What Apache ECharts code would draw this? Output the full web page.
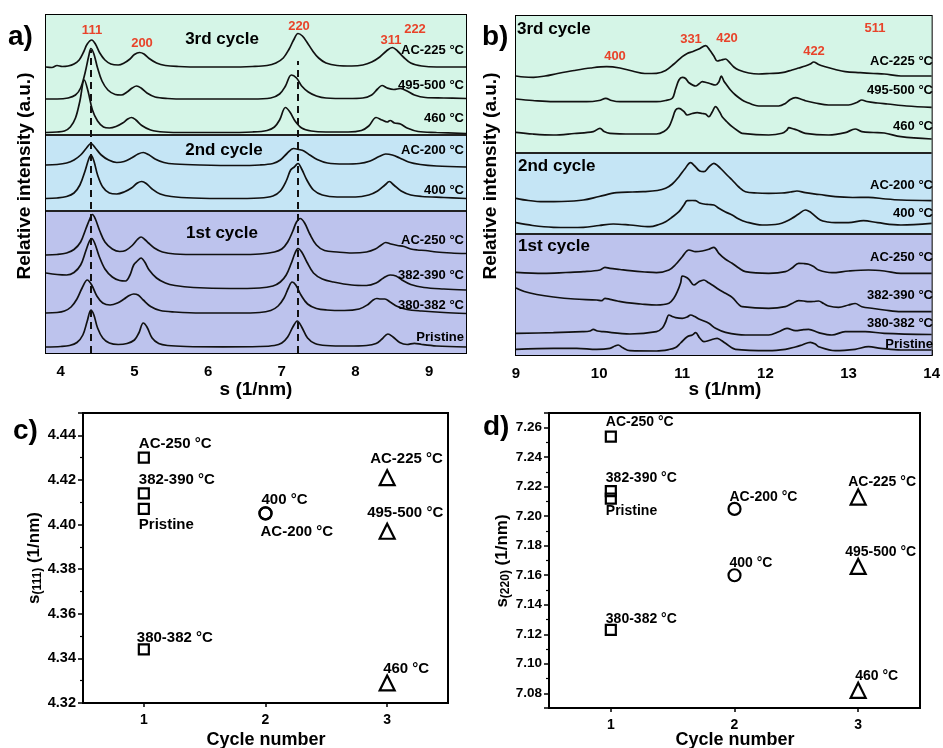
<!DOCTYPE html>
<html><head><meta charset="utf-8">
<script src="https://cdn.jsdelivr.net/npm/echarts@6/dist/echarts.min.js"></script>
<style>html,body{margin:0;padding:0;background:#fff}#c{width:943px;height:748px}</style>
</head><body><div id="c"></div>
<script>
const FONT = '"Liberation Sans", Arial, Helvetica, sans-serif';

// ---------- panel a: low-s patterns (s in 1/nm, stacked relative intensity in a.u.) ----------
const aNames = ['AC-225 °C','495-500 °C','460 °C','AC-200 °C','400 °C','AC-250 °C','382-390 °C','380-382 °C','Pristine'];
const aAC225 = [[3.80,286],[3.88,285.5],[3.95,287.5],[4.02,286.5],[4.10,287],[4.18,289],[4.25,293],[4.31,301],[4.36,309],[4.42,313],[4.47,309],[4.53,300],[4.60,293],[4.68,289],[4.78,288],[4.86,290],[4.94,294],[5.00,298.5],[5.07,300.5],[5.13,299],[5.20,294.5],[5.30,290],[5.42,287.5],[5.60,286.5],[5.90,286],[6.30,286],[6.60,286.5],[6.80,287.5],[6.92,290],[7.02,295],[7.10,304],[7.16,313],[7.22,319.5],[7.28,317],[7.34,311],[7.42,302],[7.50,295],[7.60,290],[7.75,287.5],[7.95,287],[8.10,288],[8.22,291],[8.33,296],[8.42,302],[8.50,305.5],[8.57,302],[8.65,296],[8.75,290],[8.90,287],[9.10,286],[9.30,286],[9.50,286]];
const a495 = [[3.80,254],[3.95,254],[4.10,255],[4.20,258],[4.27,265],[4.33,280],[4.38,297],[4.41,304.5],[4.45,299],[4.50,285],[4.56,272],[4.64,263],[4.74,258.5],[4.82,258],[4.90,261],[4.97,265],[5.03,267],[5.09,265],[5.17,260],[5.28,256],[5.45,254.5],[5.70,254],[6.20,254],[6.60,254],[6.85,255],[6.97,259],[7.05,267],[7.13,278],[7.20,275],[7.27,267],[7.36,261],[7.47,257],[7.60,255],[7.90,254.5],[8.10,255],[8.22,258],[8.30,264],[8.36,267.5],[8.43,265],[8.52,263.5],[8.61,264.5],[8.70,262],[8.80,258],[8.95,255.5],[9.20,255],[9.50,254.5]];
const a460 = [[3.80,220.5],[3.95,221],[4.05,222],[4.13,226],[4.20,235],[4.26,252],[4.32,273],[4.37,262],[4.43,243],[4.50,232],[4.58,226],[4.66,225],[4.75,226.5],[4.84,230],[4.91,234],[4.96,235.5],[5.02,233],[5.10,227.5],[5.22,223],[5.40,221],[5.70,220.5],[6.20,220.5],[6.60,221],[6.80,222.5],[6.90,226],[6.97,233],[7.05,245.5],[7.11,241],[7.18,232],[7.27,225],[7.40,222],[7.60,221],[7.90,221],[8.08,222.5],[8.18,227],[8.28,235.5],[8.36,233],[8.43,231],[8.47,232.5],[8.53,230],[8.61,229],[8.70,225],[8.85,221.5],[9.10,220.5],[9.50,219.5]];
const aAC200 = [[3.80,188],[3.95,188.5],[4.08,190],[4.18,193],[4.27,198],[4.35,205],[4.41,209.5],[4.47,205],[4.55,198],[4.65,193],[4.76,190.5],[4.86,191.5],[4.96,195],[5.05,199],[5.12,200.5],[5.19,198.5],[5.28,194],[5.40,190.5],[5.55,189],[5.90,188],[6.40,187.5],[6.70,188],[6.88,189.5],[6.98,193],[7.07,199.5],[7.16,204.5],[7.23,203.5],[7.30,202],[7.38,198],[7.48,193.5],[7.62,190],[7.85,189],[8.05,189.5],[8.20,192],[8.32,196.5],[8.41,199],[8.50,198],[8.60,195],[8.72,191],[8.88,188.5],[9.10,187],[9.50,186]];
const a400 = [[3.80,154.5],[3.95,155],[4.08,156.5],[4.18,160],[4.26,168],[4.33,182],[4.38,194],[4.41,198],[4.45,192],[4.50,178],[4.57,166],[4.66,160],[4.76,159],[4.86,161],[4.96,165],[5.04,170],[5.10,171.5],[5.16,169.5],[5.24,164],[5.35,159],[5.50,156.5],[5.80,155],[6.30,154.5],[6.70,155],[6.88,157],[6.98,162],[7.06,172],[7.12,183],[7.17,186],[7.22,189.5],[7.27,184],[7.34,173],[7.43,163],[7.55,158],[7.75,156],[8.00,156],[8.18,158],[8.30,162],[8.40,168],[8.46,171.5],[8.52,168],[8.62,162],[8.75,158],[8.90,156.5],[9.20,155.5],[9.50,154.5]];
const aAC250 = [[3.80,98],[3.95,98.5],[4.08,100],[4.18,103.5],[4.27,111],[4.34,124],[4.40,135],[4.43,138.5],[4.47,134],[4.53,122],[4.60,111],[4.70,104],[4.80,101.5],[4.88,102.5],[4.97,107.5],[5.04,113.5],[5.09,116],[5.14,113.5],[5.19,110],[5.27,105],[5.38,101],[5.55,99],[5.90,98.5],[6.40,98.5],[6.70,99],[6.90,101],[7.00,104],[7.08,111],[7.15,122],[7.20,131],[7.25,134.5],[7.31,130],[7.38,119],[7.47,108],[7.58,102.5],[7.75,101],[7.95,100],[8.15,101],[8.27,104],[8.35,108],[8.41,110.5],[8.48,109],[8.57,107.5],[8.66,106.5],[8.75,104],[8.84,103],[8.95,102.5],[9.10,101],[9.30,100],[9.50,99.5]];
const a382 = [[3.80,80],[3.95,78.5],[4.08,78],[4.18,80.5],[4.27,88],[4.34,102],[4.39,112],[4.42,114.5],[4.46,110],[4.52,97],[4.60,84],[4.70,76],[4.80,72.5],[4.88,72],[4.94,78],[4.99,88],[5.04,92],[5.09,95],[5.14,91],[5.20,83],[5.30,75],[5.42,70],[5.55,67.5],[5.80,65.5],[6.30,64.5],[6.70,65],[6.88,67],[6.98,71],[7.06,78],[7.13,90],[7.18,100],[7.22,104.5],[7.27,101],[7.34,91],[7.43,80],[7.55,74],[7.70,71],[7.95,68],[8.15,67.5],[8.28,70],[8.38,75],[8.47,78],[8.55,77],[8.63,73],[8.75,68.5],[8.93,65.5],[9.20,64],[9.50,63]];
const a380 = [[3.80,40],[3.95,40.5],[4.05,42],[4.14,46],[4.22,54],[4.29,65],[4.36,73],[4.42,68],[4.49,57],[4.57,50],[4.67,48],[4.77,50],[4.86,54],[4.93,57.5],[4.99,59],[5.05,58],[5.12,53],[5.22,46.5],[5.35,42.5],[5.55,41],[5.90,40],[6.40,40],[6.70,40.5],[6.85,42.5],[6.95,47],[7.03,55],[7.09,65],[7.14,71],[7.19,68],[7.26,58],[7.35,49],[7.47,44.5],[7.61,43],[7.85,42.5],[8.05,44],[8.17,48.5],[8.24,53],[8.29,54.5],[8.34,54],[8.40,54],[8.47,51],[8.57,46.5],[8.70,43.5],[8.90,42],[9.20,40.5],[9.50,39.5]];
const aPristine = [[3.80,6],[4.00,6.5],[4.12,7.5],[4.22,10.5],[4.30,18],[4.36,32],[4.41,43],[4.45,38],[4.50,25],[4.57,15],[4.66,10],[4.78,8.5],[4.90,9.5],[5.00,13],[5.06,20],[5.12,30],[5.17,26],[5.24,15],[5.33,9.5],[5.45,7.5],[5.70,6.5],[6.20,6.2],[6.70,6.5],[6.90,7.5],[7.00,10],[7.08,16],[7.15,26],[7.21,32],[7.27,26],[7.35,15],[7.45,9.5],[7.60,7.5],[7.90,7],[8.15,7.5],[8.28,9.5],[8.36,14],[8.44,19],[8.51,16],[8.60,10.5],[8.70,8.5],[8.80,9.7],[8.90,8.5],[9.10,7],[9.50,6]];
const aCurves = [aAC225,a495,a460,aAC200,a400,aAC250,a382,a380,aPristine];
const aRefPeaks = [4.41, 7.22];        // dashed reference positions (111, 220)
const aPeakNames = ['111','200','220','311','222'];

// ---------- panel b: high-s patterns ----------
const bNames = aNames;
const bAC225 = [[9.00,279],[9.10,278],[9.21,277.7],[9.35,279],[9.50,281.5],[9.70,284.5],[9.90,287],[10.09,288.3],[10.25,287],[10.40,284],[10.55,281.5],[10.69,281.7],[10.80,284.5],[10.90,291],[11.00,298.3],[11.06,301.5],[11.12,303.3],[11.20,306],[11.28,309.3],[11.33,305],[11.38,299],[11.42,294],[11.47,295],[11.52,296],[11.56,293.3],[11.62,288],[11.68,285],[11.80,282],[11.92,281],[12.05,281.5],[12.20,282.3],[12.32,285],[12.40,287],[12.48,289],[12.54,291],[12.58,293],[12.64,290.5],[12.72,288.3],[12.84,285.5],[12.96,283.3],[13.14,282.3],[13.30,281.5],[13.43,281],[13.63,279],[14.00,279]];
const b495 = [[9.00,256],[9.20,254.5],[9.45,253.3],[9.85,253.3],[10.00,254.5],[10.08,256.7],[10.15,254.5],[10.25,253.3],[10.69,253.3],[10.80,254.5],[10.88,256.7],[10.92,266],[10.96,275],[11.00,277.7],[11.04,276.5],[11.08,272.3],[11.16,269],[11.20,271],[11.24,273.3],[11.29,272.5],[11.33,271.5],[11.40,270],[11.44,273],[11.47,279],[11.50,274],[11.52,271.7],[11.58,265],[11.64,260],[11.72,255],[11.76,253.3],[11.92,249],[12.16,249],[12.24,251.5],[12.30,255.5],[12.36,257.3],[12.44,255.5],[12.48,254.3],[12.60,252],[12.76,250],[13.00,250],[13.10,252.5],[13.16,255],[13.22,253.5],[13.35,252],[13.47,251],[13.70,249],[14.00,247.7]];
const b460 = [[9.00,222.7],[9.20,221],[9.45,220],[9.70,221.5],[9.93,223.3],[10.01,226.7],[10.06,223.5],[10.13,221.7],[10.40,221],[10.69,221],[10.78,223.5],[10.84,228.3],[10.88,236],[10.92,245],[10.96,246.7],[11.02,243.5],[11.06,240],[11.12,241.5],[11.18,242.3],[11.24,241.5],[11.28,241],[11.32,238.3],[11.36,243],[11.40,248.3],[11.45,243],[11.48,238.3],[11.54,233],[11.60,228.3],[11.68,223.5],[11.72,221.7],[12.04,220],[12.20,221.7],[12.26,225],[12.28,227.3],[12.34,226],[12.38,225],[12.48,221.7],[12.76,220],[12.96,222.3],[13.08,226],[13.16,223.3],[13.30,222.5],[13.43,222],[13.63,218.3],[14.00,216]];
const bAC200 = [[9.00,156.7],[9.15,154.5],[9.33,153.3],[9.55,153.5],[9.81,155],[10.00,158.5],[10.21,162.3],[10.40,163],[10.53,163.3],[10.70,164.5],[10.80,166.7],[10.88,171],[10.96,178.3],[11.03,186],[11.10,192.3],[11.15,189],[11.21,184],[11.26,183.3],[11.32,188],[11.38,191.7],[11.43,189],[11.48,185],[11.55,179],[11.60,175],[11.68,168],[11.76,163.3],[11.90,162],[12.04,161.7],[12.20,162],[12.30,163],[12.38,164],[12.48,162.3],[12.65,160.5],[12.84,158.3],[13.05,157.5],[13.24,157.7],[13.45,156],[13.63,155],[14.00,154.3]];
const b400 = [[9.00,132.3],[9.20,129.5],[9.45,127.7],[9.65,127.5],[9.81,127.7],[10.00,129.5],[10.17,131],[10.37,130],[10.61,128.3],[10.72,130.5],[10.80,133.3],[10.88,138],[10.96,143.3],[11.02,150],[11.06,154.3],[11.12,154.5],[11.16,154.3],[11.21,152],[11.26,151],[11.32,150.5],[11.38,150],[11.44,146.7],[11.52,143],[11.60,140],[11.68,136],[11.76,133.3],[11.96,130],[12.16,131],[12.26,134],[12.32,136.7],[12.40,141],[12.48,145],[12.53,143.5],[12.56,141.7],[12.66,135],[12.75,133],[12.84,132.3],[13.00,132.3],[13.18,134.3],[13.35,132.3],[13.63,130],[14.00,131.7]];
const bAC250 = [[9.00,82.7],[9.33,81.7],[9.60,82.5],[9.81,83.3],[10.01,85],[10.07,87.7],[10.13,86.7],[10.25,85.5],[10.37,84.3],[10.55,83],[10.69,82.3],[10.84,85],[10.92,90.5],[11.00,98.3],[11.08,105],[11.16,103.3],[11.24,104],[11.32,105.7],[11.38,107.7],[11.44,101.7],[11.52,95.7],[11.60,91.7],[11.68,87],[11.76,83.3],[12.04,81.7],[12.24,83.3],[12.32,87],[12.40,91.7],[12.46,91.5],[12.52,90.7],[12.58,88.5],[12.64,85],[12.80,82.3],[13.00,84],[13.24,85],[13.43,84],[13.63,81.7],[14.00,81.7]];
const b382 = [[9.00,67],[9.10,63.5],[9.25,60.5],[9.45,58],[9.70,56],[9.97,55],[10.03,54.3],[10.07,56.7],[10.13,55.7],[10.22,54],[10.33,52.3],[10.50,51],[10.69,50],[10.84,51.7],[10.90,57],[10.94,63.3],[10.98,72],[11.00,79],[11.04,78],[11.08,75.7],[11.14,70],[11.20,73.3],[11.26,75],[11.31,72.5],[11.36,70],[11.44,65.5],[11.52,61.7],[11.60,57.7],[11.68,50.5],[11.72,48.3],[12.04,46.7],[12.24,48.3],[12.32,51.5],[12.40,54.3],[12.46,54],[12.52,53.3],[12.58,53.5],[12.64,54],[12.70,51.5],[12.76,49],[12.88,47.7],[13.00,50],[13.08,51.5],[13.16,48.3],[13.30,46.5],[13.43,45],[13.63,43.3],[14.00,43.3]];
const b380 = [[9.00,21.7],[9.45,22.3],[9.80,23.3],[9.89,24],[9.93,25.7],[9.98,24],[10.05,23.3],[10.37,21],[10.69,23.3],[10.76,27],[10.80,33],[10.84,40],[10.88,38.5],[10.92,37.3],[11.00,36.7],[11.06,38],[11.10,40],[11.15,38.5],[11.20,36],[11.32,31.7],[11.40,26.7],[11.52,22.7],[11.76,20],[12.04,20],[12.16,23.3],[12.26,26.7],[12.36,24.3],[12.46,25.3],[12.52,25.7],[12.64,22.3],[12.80,20],[12.96,23.3],[13.20,23.3],[13.43,21.7],[14.00,20.5]];
const bPristine = [[9.00,5.7],[9.45,6.7],[9.73,6.7],[9.97,5.7],[10.13,6.7],[10.19,9],[10.23,10],[10.28,7.5],[10.37,4.3],[10.69,4],[10.84,5.5],[10.92,7.5],[10.98,12],[11.06,18.3],[11.12,20],[11.16,22.3],[11.21,17],[11.26,13.3],[11.32,14.5],[11.38,16],[11.42,16.7],[11.47,14.5],[11.52,11.7],[11.64,5.7],[12.04,4.3],[12.24,5.7],[12.36,8],[12.44,10],[12.54,12.7],[12.60,11],[12.64,8.3],[12.84,4.3],[13.08,5.7],[13.24,8.3],[13.39,6.7],[13.63,5],[14.00,5]];
const bCurves = [bAC225,b495,b460,bAC200,b400,bAC250,b382,b380,bPristine];
const bPeakNames = ['400','331','420','422','511'];

// ---------- panel c: s(111) peak position vs cycle ----------
const cCycle1Names = ['AC-250 °C','382-390 °C','Pristine','380-382 °C'];
const cCycle1 = [4.430, 4.414, 4.407, 4.344];
const cCycle2Names = ['400 °C','AC-200 °C'];
const cCycle2 = [4.405, 4.405];
const cCycle3Names = ['AC-225 °C','495-500 °C','460 °C'];
const cCycle3 = [4.421, 4.397, 4.329];

// ---------- panel d: s(220) peak position vs cycle ----------
const dCycle1Names = ['AC-250 °C','382-390 °C','Pristine','380-382 °C'];
const dCycle1 = [7.254, 7.217, 7.212, 7.123];
const dCycle2Names = ['AC-200 °C','400 °C'];
const dCycle2 = [7.205, 7.160];
const dCycle3Names = ['AC-225 °C','495-500 °C','460 °C'];
const dCycle3 = [7.213, 7.166, 7.082];

const cycleTicks = [1, 2, 3];
const cTickLabels = [4.32, 4.34, 4.36, 4.38, 4.40, 4.42, 4.44];
const dTickLabels = [7.08, 7.10, 7.12, 7.14, 7.16, 7.18, 7.20, 7.22, 7.24, 7.26];

// ---------- styling / layout ----------
const GREEN = '#d5f5e7', BLUE = '#c5e5f5', PURPLE = '#bdc3ed', PEAK = '#e8432a';
const blk = '#000';

function curve(data, i) {
  return { type: 'line', xAxisIndex: i, yAxisIndex: i, data, smooth: 0.35, symbol: 'none',
    lineStyle: { color: '#111', width: 1.7 }, z: 5, silent: true, animation: false };
}
function bands(i, g, b, top) {
  return { type: 'line', xAxisIndex: i, yAxisIndex: i, data: [], z: 1, silent: true,
    markArea: { silent: true, data: [
      [{ yAxis: g, itemStyle: { color: GREEN } }, { yAxis: top }],
      [{ yAxis: b, itemStyle: { color: BLUE } }, { yAxis: g }],
      [{ yAxis: 0, itemStyle: { color: PURPLE } }, { yAxis: b }] ] },
    markLine: { silent: true, symbol: 'none', label: { show: false },
      lineStyle: { color: '#222', width: 2, type: 'solid' },
      data: [{ yAxis: g }, { yAxis: b }] } };
}
function scatter(i, vals, names, x, symbol, size, offs, fs) {
  return { type: 'scatter', xAxisIndex: i, yAxisIndex: i, symbol, symbolSize: size, z: 5, silent: true,
    itemStyle: { color: 'rgba(0,0,0,0)', borderColor: blk, borderWidth: 2.2, opacity: 1 },
    data: vals.map((v, k) => ({ value: [x, v], name: names[k],
      label: { show: true, formatter: names[k], position: 'inside', align: 'left', verticalAlign: 'middle',
        offset: offs[k], color: blk, opacity: 1, fontWeight: 'bold', fontSize: fs, fontFamily: FONT } })) };
}

const axisLine = { show: true, onZero: false, lineStyle: { color: blk, width: 2 } };
const tickLbl = (fs, m) => ({ color: blk, fontWeight: 'bold', fontSize: fs, fontFamily: FONT, margin: m });

const option = {
  animation: false,
  textStyle: { fontFamily: FONT },
  grid: [
    { left: 46, top: 15, width: 420, height: 338, show: true, borderColor: blk, borderWidth: 2, backgroundColor: 'transparent' },
    { left: 516, top: 16, width: 418, height: 339, show: true, borderColor: blk, borderWidth: 2, backgroundColor: 'transparent' },
    { left: 83, top: 413, width: 365, height: 290, show: true, borderColor: blk, borderWidth: 2, backgroundColor: 'transparent' },
    { left: 549, top: 413, width: 371, height: 295, show: true, borderColor: blk, borderWidth: 2, backgroundColor: 'transparent' }
  ],
  xAxis: [
    { gridIndex: 0, type: 'value', min: 3.8, max: 9.5, splitNumber: 6, axisLine, splitLine: { show: false },
      axisTick: { inside: true, length: 5, lineStyle: { color: blk, width: 1.5 } },
      minorTick: { show: true, splitNumber: 2, length: 3, lineStyle: { color: blk, width: 1.2 } },
      axisLabel: Object.assign(tickLbl(15, 11), { showMinLabel: false, showMaxLabel: false }) },
    { gridIndex: 1, type: 'value', min: 9, max: 14, interval: 1, axisLine, splitLine: { show: false },
      axisTick: { inside: true, length: 5, lineStyle: { color: blk, width: 1.5 } },
      minorTick: { show: true, splitNumber: 2, length: 3, lineStyle: { color: blk, width: 1.2 } },
      axisLabel: tickLbl(15, 11) },
    { gridIndex: 2, type: 'value', min: 0.5, max: 3.5, splitNumber: 3, axisLine, splitLine: { show: false },
      axisTick: { length: 4, customValues: cycleTicks, lineStyle: { color: blk, width: 1.5 } },
      axisLabel: Object.assign(tickLbl(14, 10), { customValues: cycleTicks }) },
    { gridIndex: 3, type: 'value', min: 0.5, max: 3.5, splitNumber: 3, axisLine, splitLine: { show: false },
      axisTick: { length: 4, customValues: cycleTicks, lineStyle: { color: blk, width: 1.5 } },
      axisLabel: Object.assign(tickLbl(14, 10), { customValues: cycleTicks }) }
  ],
  yAxis: [
    { gridIndex: 0, type: 'value', min: 0, max: 338, axisLine, axisTick: { show: false }, axisLabel: { show: false }, splitLine: { show: false } },
    { gridIndex: 1, type: 'value', min: 0, max: 339, axisLine, axisTick: { show: false }, axisLabel: { show: false }, splitLine: { show: false } },
    { gridIndex: 2, type: 'value', min: 4.32, max: 4.45, interval: 0.02, axisLine, splitLine: { show: false },
      axisTick: { length: 5, lineStyle: { color: blk, width: 1.5 } },
      minorTick: { show: true, splitNumber: 2, length: 3, lineStyle: { color: blk, width: 1.2 } },
      axisLabel: Object.assign(tickLbl(14.5, 7), { customValues: cTickLabels, formatter: v => v.toFixed(2) }) },
    { gridIndex: 3, type: 'value', min: 7.07, max: 7.27, splitNumber: 10, axisLine, splitLine: { show: false },
      axisTick: { length: 5, lineStyle: { color: blk, width: 1.5 } },
      minorTick: { show: true, splitNumber: 2, length: 3, lineStyle: { color: blk, width: 1.2 } },
      axisLabel: Object.assign(tickLbl(13.5, 7), { customValues: dTickLabels, formatter: v => v.toFixed(2) }) }
  ],
  series: [
    bands(0, 218, 142, 338),
    bands(1, 202, 121, 339),
    ...aCurves.map(d => curve(d, 0)),
    ...bCurves.map(d => curve(d, 1)),
    { type: 'line', xAxisIndex: 0, yAxisIndex: 0, data: [], z: 6, silent: true,
      markLine: { silent: true, symbol: 'none', label: { show: false },
        lineStyle: { color: '#111', width: 2, type: [7, 5] },
        data: [[{ coord: [aRefPeaks[0], 0] }, { coord: [aRefPeaks[0], 303] }],
               [{ coord: [aRefPeaks[1], 0] }, { coord: [aRefPeaks[1], 292] }]] } },
    scatter(2, cCycle1, cCycle1Names, 1, 'rect', 10, [[-5,-14],[-5,-13],[-5,16],[-7,-12]], 15),
    scatter(2, cCycle2, cCycle2Names, 2, 'circle', 12, [[-4,-14],[-5,18]], 15),
    scatter(2, cCycle3, cCycle3Names, 3, 'triangle', 15, [[-17,-19],[-20,-18],[-4,-14]], 15),
    scatter(3, dCycle1, dCycle1Names, 1, 'rect', 10, [[-5,-14],[-5,-13],[-5,13],[-5,-11]], 14),
    scatter(3, dCycle2, dCycle2Names, 2, 'circle', 12, [[-5,-12],[-5,-12]], 14),
    scatter(3, dCycle3, dCycle3Names, 3, 'triangle', 15, [[-10,-15],[-13,-14],[-3,-14]], 14)
  ],
  graphic: []
};

const G = option.graphic;
function txt(x, y, text, size, opt) {
  opt = opt || {};
  G.push({ type: 'text', x, y, z: 100, silent: true, rotation: opt.rot || 0,
    style: { text, fill: opt.color || blk, font: 'bold ' + size + 'px ' + FONT,
      align: opt.align || 'center', verticalAlign: 'middle', rich: opt.rich } });
}
// panel letters
txt(8, 37, 'a)', 28, { align: 'left' });
txt(482, 37, 'b)', 28, { align: 'left' });
txt(13, 431, 'c)', 28, { align: 'left' });
txt(483, 427, 'd)', 28, { align: 'left' });
// cycle labels
txt(222, 39, '3rd cycle', 17); txt(224, 150, '2nd cycle', 17); txt(222, 233, '1st cycle', 17);
txt(517, 29, '3rd cycle', 17, { align: 'left' }); txt(518, 166, '2nd cycle', 17, { align: 'left' }); txt(518, 246, '1st cycle', 17, { align: 'left' });
// sample labels
const aLabY = [50, 85, 118, 150, 190, 240, 275, 305, 337];
const bLabY = [61, 90, 126, 185, 213, 257, 295, 323, 344];
aNames.forEach((n, k) => txt(464, aLabY[k], n, 13, { align: 'right' }));
bNames.forEach((n, k) => txt(933, bLabY[k], n, 13, { align: 'right' }));
// peak (hkl) labels
const aPeakPos = [[92, 30], [142, 43], [299, 26], [391, 40], [415, 29]];
const bPeakPos = [[615, 56], [691, 39], [727, 38], [814, 51], [875, 28]];
aPeakNames.forEach((n, k) => txt(aPeakPos[k][0], aPeakPos[k][1], n, 13, { color: PEAK }));
bPeakNames.forEach((n, k) => txt(bPeakPos[k][0], bPeakPos[k][1], n, 13, { color: PEAK }));
// axis names
txt(256, 390, 's (1/nm)', 19); txt(725, 390, 's (1/nm)', 19);
txt(266, 740, 'Cycle number', 18); txt(735, 740, 'Cycle number', 18);
txt(25, 176, 'Relative intensity (a.u.)', 19, { rot: Math.PI / 2 });
txt(491, 176, 'Relative intensity (a.u.)', 19, { rot: Math.PI / 2 });
const subRich = { m: { fontSize: 17, fontWeight: 'bold', fontFamily: FONT, lineHeight: 18, verticalAlign: 'top' },
                  sub: { fontSize: 12, fontWeight: 'bold', fontFamily: FONT, lineHeight: 14, padding: [8, 0, 0, 0], verticalAlign: 'bottom' } };
txt(35, 558, '{m|s}{sub|(111)}{m| (1/nm)}', 17, { rot: Math.PI / 2, rich: subRich });
txt(503, 561, '{m|s}{sub|(220)}{m| (1/nm)}', 17, { rot: Math.PI / 2, rich: subRich });

const chart = echarts.init(document.getElementById('c'), null, { renderer: 'canvas' });
chart.setOption(option);
</script></body></html>
